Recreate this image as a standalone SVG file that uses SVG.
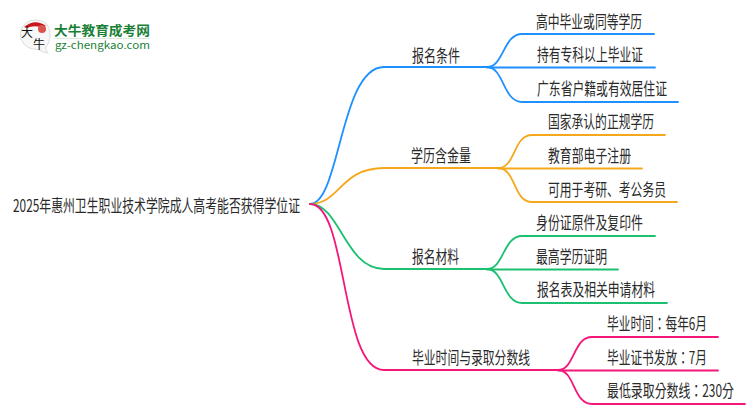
<svg xmlns="http://www.w3.org/2000/svg" width="750" height="410" viewBox="0 0 750 410">
<style>
text{font-family:"Noto Sans CJK SC","Noto Sans",sans-serif;font-size:17px;fill:#2a2a2a}
.c path{fill:none;stroke-width:1.800;stroke-linecap:round}
.b{stroke:#1e90ff}.o{stroke:#f5a81c}.g{stroke:#1cc070}.p{stroke:#f5167a}
text.k{font-family:"Noto Sans CJK TC","Noto Sans",sans-serif}
</style>
<rect width="750" height="410" fill="#fff"/>
<g id="logo">
<path d="M36 20a14.500 14.500 0 1 0-2 29q5 0 9 3l5 1-3-5q5-5 5-13 0-15-14-15z" fill="#f7f7f7" stroke="#ddd"/>
<path d="M24 27q11-9 22-1l-5 1q-8-2-14 1z" fill="#c8161d"/>
<circle cx="42" cy="29" r="4" fill="#d9534f"/>
<text x="21" y="37" style="font-size:12px;fill:#111">大</text>
<text x="33" y="49" style="font-size:12px;fill:#111">牛</text>
<text x="54" y="35" textLength="96" lengthAdjust="spacingAndGlyphs" style="font-size:13px;font-weight:700;fill:#1a7f37">大牛教育成考网</text>
<rect x="55" y="38" width="95" height="1" fill="#dfe9df"/>
<text x="55" y="49" textLength="95" lengthAdjust="spacingAndGlyphs" style="font-size:10px;fill:#1a7f37">gz-chengkao.com</text>
</g>
<g class="c" id="connectors">
<path class="b" d="M310 204C340 204 340 67 384 67H487"/>
<path class="b" d="M487 67C504 67 503 34 522 34H654"/>
<path class="b" d="M487 67.500H655"/>
<path class="b" d="M487 67C504 67 503 102 522 102H678"/>
<path class="o" d="M310 204C340 204 340 168 384 168H498"/>
<path class="o" d="M498 168C516 168 513 135 532 135H665"/>
<path class="o" d="M498 168.500H642"/>
<path class="o" d="M498 168C516 168 513 202 532 202H677"/>
<path class="g" d="M310 204C340 204 345 269 384 269H487"/>
<path class="g" d="M487 269C504 269 503 236 522 236H655"/>
<path class="g" d="M487 269.500H618"/>
<path class="g" d="M487 269C504 269 503 303 522 303H667"/>
<path class="p" d="M310 204C348 204 340 370 384 370H558"/>
<path class="p" d="M558 370C575 370 573 337 592 337H718"/>
<path class="p" d="M558 370.500H718"/>
<path class="p" d="M558 370C575 370 573 404 592 404H745"/>
</g>
<g id="root"><text x="13" y="212" textLength="287" lengthAdjust="spacingAndGlyphs">2025年惠州卫生职业技术学院成人高考能否获得学位证</text></g>
<g id="n1"><text x="412" y="62" textLength="48" lengthAdjust="spacingAndGlyphs">报名条件</text></g>
<g id="n11"><text x="536" y="28" textLength="106" lengthAdjust="spacingAndGlyphs">高中毕业或同等学历</text></g>
<g id="n12"><text x="537" y="61" textLength="106" lengthAdjust="spacingAndGlyphs">持有专科以上毕业证</text></g>
<g id="n13"><text x="537" y="95" textLength="130" lengthAdjust="spacingAndGlyphs">广东省户籍或有效居住证</text></g>
<g id="n2"><text x="411" y="162" textLength="60" lengthAdjust="spacingAndGlyphs">学历含金量</text></g>
<g id="n21"><text x="548" y="128" textLength="106" lengthAdjust="spacingAndGlyphs">国家承认的正规学历</text></g>
<g id="n22"><text x="548" y="162" textLength="83" lengthAdjust="spacingAndGlyphs">教育部电子注册</text></g>
<g id="n23"><text x="548" y="196" textLength="118" lengthAdjust="spacingAndGlyphs">可用于考研、考公务员</text></g>
<g id="n3"><text x="412" y="263" textLength="47" lengthAdjust="spacingAndGlyphs">报名材料</text></g>
<g id="n31"><text x="536" y="229" textLength="107" lengthAdjust="spacingAndGlyphs">身份证原件及复印件</text></g>
<g id="n32"><text x="536" y="263" textLength="71" lengthAdjust="spacingAndGlyphs">最高学历证明</text></g>
<g id="n33"><text x="537" y="296" textLength="118" lengthAdjust="spacingAndGlyphs">报名表及相关申请材料</text></g>
<g id="n4"><text x="412" y="364" textLength="118" lengthAdjust="spacingAndGlyphs">毕业时间与录取分数线</text></g>
<g id="n41"><text class="k" x="607" y="330" textLength="100" lengthAdjust="spacingAndGlyphs">毕业时间：每年6月</text></g>
<g id="n42"><text class="k" x="607" y="364" textLength="100" lengthAdjust="spacingAndGlyphs">毕业证书发放：7月</text></g>
<g id="n43"><text class="k" x="607" y="397" textLength="127" lengthAdjust="spacingAndGlyphs">最低录取分数线：230分</text></g>
</svg>
